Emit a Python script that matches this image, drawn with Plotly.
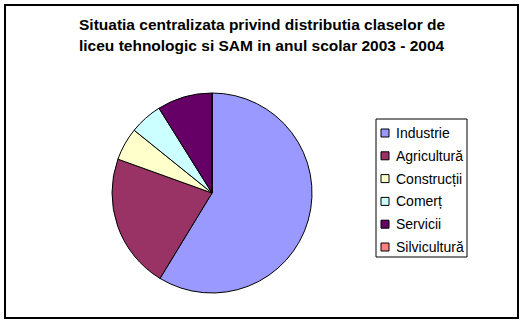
import plotly.graph_objects as go

W, H = 524, 324

labels = ["Industrie", "Agricultură", "Construcții", "Comerț", "Servicii", "Silvicultură"]
values = [58.7, 21.8, 5.3, 5.3, 8.9, 0.0]
colors = ["#9999FF", "#993366", "#FFFFCC", "#CCFFFF", "#660066", "#FF8080"]
title_lines = ["Situatia centralizata privind distributia claselor de",
               "liceu tehnologic si SAM in anul scolar 2003 - 2004"]

def px_x(x):
    return x / W

def px_y(y):
    return 1 - y / H

fig = go.Figure()
fig.add_trace(go.Pie(
    labels=labels, values=values, sort=False, direction="clockwise", rotation=0,
    marker=dict(colors=colors, line=dict(color="black", width=1)),
    textinfo="none", hoverinfo="label+percent", showlegend=False,
    domain=dict(x=[px_x(112), px_x(312)], y=[px_y(293), px_y(93)]),
))

shapes = []
annotations = []
# outer border
shapes.append(dict(type="rect", xref="paper", yref="paper",
                   x0=px_x(5), x1=px_x(518), y0=px_y(318), y1=px_y(5),
                   line=dict(color="black", width=2), fillcolor="rgba(0,0,0,0)"))
# title
for i, t in enumerate(title_lines):
    annotations.append(dict(text="<b>%s</b>" % t, xref="paper", yref="paper",
                            x=px_x(262), y=px_y(24 + 22 * i), xanchor="center", yanchor="middle",
                            showarrow=False,
                            font=dict(family="Liberation Sans, Arial", size=15.5, color="black")))
# legend box
shapes.append(dict(type="rect", xref="paper", yref="paper",
                   x0=px_x(376), x1=px_x(467), y0=px_y(257), y1=px_y(119),
                   line=dict(color="black", width=1), fillcolor="white"))
for i, (lab, col) in enumerate(zip(labels, colors)):
    cy = 133 + 22.8 * i
    shapes.append(dict(type="rect", xref="paper", yref="paper",
                       x0=px_x(381), x1=px_x(389), y0=px_y(cy + 4), y1=px_y(cy - 4),
                       line=dict(color="black", width=1), fillcolor=col))
    annotations.append(dict(text=lab, xref="paper", yref="paper",
                            x=px_x(394), y=px_y(cy), xanchor="left", yanchor="middle",
                            showarrow=False,
                            font=dict(family="Liberation Sans, Arial", size=14, color="black")))

fig.update_layout(
    width=W, height=H, margin=dict(l=0, r=0, t=0, b=0),
    paper_bgcolor="white", plot_bgcolor="white",
    shapes=shapes, annotations=annotations, showlegend=False,
)
fig.write_html("out.html")
